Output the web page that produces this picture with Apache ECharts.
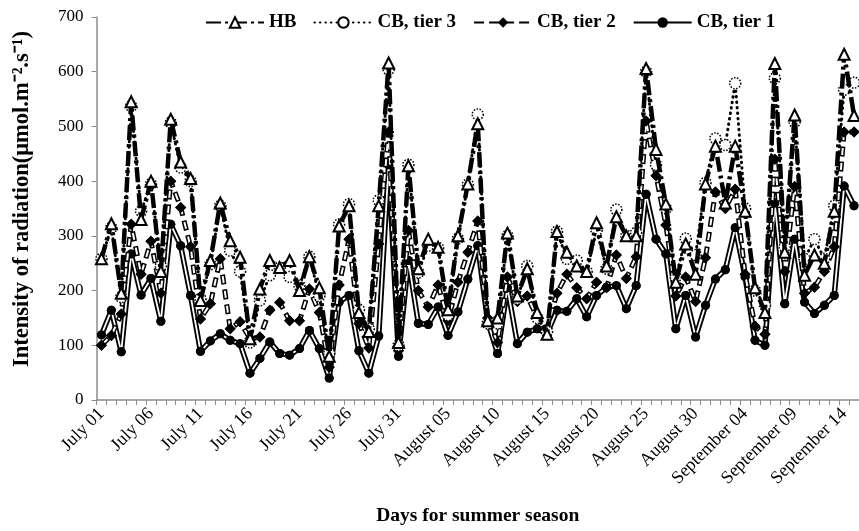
<!DOCTYPE html>
<html>
<head>
<meta charset="utf-8">
<script src="https://cdn.jsdelivr.net/npm/echarts@6/dist/echarts.min.js"></script>
<style>html,body{margin:0;padding:0;background:#fff}#c{width:859px;height:531px}</style>
</head>
<body>
<div id="c"></div>
<script>
const days = [
 "July 01","July 02","July 03","July 04","July 05","July 06","July 07","July 08","July 09","July 10",
 "July 11","July 12","July 13","July 14","July 15","July 16","July 17","July 18","July 19","July 20",
 "July 21","July 22","July 23","July 24","July 25","July 26","July 27","July 28","July 29","July 30",
 "July 31","August 01","August 02","August 03","August 04","August 05","August 06","August 07","August 08","August 09",
 "August 10","August 11","August 12","August 13","August 14","August 15","August 16","August 17","August 18","August 19",
 "August 20","August 21","August 22","August 23","August 24","August 25","August 26","August 27","August 28","August 29",
 "August 30","August 31","September 01","September 02","September 03","September 04","September 05","September 06","September 07","September 08",
 "September 09","September 10","September 11","September 12","September 13","September 14","September 15"
];
const hb = [258,322,195,545,330,400,235,513,435,405, 182,255,360,291,261,112,203,255,242,255,
 200,262,205,80,318,355,160,125,355,616, 105,428,240,294,279,165,300,395,505,145,
 150,305,190,240,160,120,308,270,245,235, 324,245,335,300,300,606,458,358,215,285,
 230,395,464,360,464,345,205,160,615,270, 521,228,265,250,345,632,520];
const tier3 = [258,315,188,537,345,395,245,507,425,400, 185,248,355,273,235,105,182,228,242,225,
 209,262,190,85,321,358,165,130,365,604, 100,430,233,282,278,155,295,394,522,140,
 140,300,185,245,150,125,308,258,255,235, 310,240,348,300,306,600,430,350,225,295,
 265,397,478,466,579,350,200,173,588,280, 508,258,294,258,355,567,580];
const tier2 = [100,118,157,321,230,290,195,400,352,280, 148,176,258,130,143,112,115,164,178,145,
 145,203,160,60,210,294,140,95,285,490, 90,310,200,170,210,145,215,270,327,150,
 105,225,180,190,150,130,195,230,205,185, 215,205,265,222,262,510,410,320,190,225,
 180,260,380,350,385,230,135,120,440,235, 390,195,206,235,280,490,490];
const tier1 = [119,164,88,267,192,222,144,321,282,191, 89,108,121,109,103,49,76,106,85,82,
 94,127,94,40,179,191,90,49,117,430, 80,255,140,138,170,118,161,221,282,143,
 85,205,103,124,130,121,164,162,185,152, 191,206,209,167,209,376,294,267,130,191,
 115,173,221,238,315,225,109,100,360,176, 294,179,158,173,191,391,355];
const yTicks = [0,100,200,300,400,500,600,700];
const yTitle = 'Intensity of radiation(\u03BCmol.m\u207B\u00B2.s\u207B\u00B9)';

const FONT = 'Liberation Serif';
const chart = echarts.init(document.getElementById('c'), null, {renderer:'canvas'});
const none = {show:false};
const base = {type:'line', showAllSymbol:true, emphasis:{disabled:true}, animation:false};
chart.setOption({
  animation:false,
  backgroundColor:'#fff',
  grid:{left:96.5, top:17, right:-8, bottom:129, containLabel:false},
  legend:{
    data:['HB','CB, tier 3','CB, tier 2','CB, tier 1'],
    top:8, left:200, itemWidth:58, itemHeight:13, itemGap:17,
    textStyle:{fontFamily:FONT, fontWeight:'bold', fontSize:19, color:'#000'},
    selectedMode:false
  },
  graphic:[{
    type:'text', x:22, y:199, rotation:Math.PI/2, silent:true,
    style:{text:yTitle, fontFamily:FONT, fontWeight:'bold', fontSize:22.5, fill:'#000',
      textAlign:'center', textVerticalAlign:'middle'}
  }],
  xAxis:{
    type:'category', data:days, boundaryGap:true,
    axisLine:{show:true, lineStyle:{color:'#8c8c8c', width:1.5}},
    axisTick:{show:true, interval:0, length:5, lineStyle:{color:'#8c8c8c'}},
    axisLabel:{interval:4, rotate:45, margin:11, fontFamily:FONT, fontSize:18, color:'#000'},
    name:'Days for summer season', nameLocation:'middle', nameGap:106,
    nameTextStyle:{fontFamily:FONT, fontWeight:'bold', fontSize:19.5, color:'#000'},
    splitLine:none
  },
  yAxis:{
    type:'value', min:0, max:700, interval:100,
    axisLine:{show:true, lineStyle:{color:'#8c8c8c', width:1.5}},
    axisTick:{show:true, length:5, lineStyle:{color:'#8c8c8c'}},
    axisLabel:{margin:13, fontFamily:FONT, fontSize:17, color:'#000',
      formatter:v => yTicks.includes(v) ? String(v) : ''},
    splitLine:none
  },
  series:[
    Object.assign({}, base, {name:'CB, tier 1', data:tier1, symbol:'circle', symbolSize:9, z:2,
     lineStyle:{color:'#000', width:5.5}, itemStyle:{color:'#000'}}),
    Object.assign({}, base, {name:'t1w', data:tier1, symbol:'none', z:2, silent:true,
     lineStyle:{color:'#fff', width:1.8}}),
    Object.assign({}, base, {name:'t1s', data:tier1, symbol:'circle', symbolSize:9, z:2, silent:true,
     lineStyle:{width:0, opacity:0}, itemStyle:{color:'#000'}}),

    Object.assign({}, base, {name:'CB, tier 2', data:tier2, symbol:'diamond', symbolSize:11, z:3,
     lineStyle:{color:'#000', width:5, type:[10,5]}, itemStyle:{color:'#000'}}),
    Object.assign({}, base, {name:'t2w', data:tier2, symbol:'none', z:3, silent:true,
     lineStyle:{color:'#fff', width:2, type:[7,8], dashOffset:-1.5}}),
    Object.assign({}, base, {name:'t2s', data:tier2, symbol:'diamond', symbolSize:11, z:3, silent:true,
     lineStyle:{width:0, opacity:0}, itemStyle:{color:'#000'}}),

    Object.assign({}, base, {name:'CB, tier 3', data:tier3, symbol:'circle', symbolSize:11, z:4,
     lineStyle:{color:'#000', width:3, type:[0.5,5], cap:'round'},
     itemStyle:{color:'#fff', borderColor:'#000', borderWidth:1.5, borderType:'dotted'}}),

    Object.assign({}, base, {name:'HB', data:hb, symbol:'triangle', symbolSize:11, z:5,
     lineStyle:{color:'#000', width:4.5, type:[15,4,3,4]},
     itemStyle:{color:'#fff', borderColor:'#000', borderWidth:2}})
  ]
});
</script>
</body>
</html>
